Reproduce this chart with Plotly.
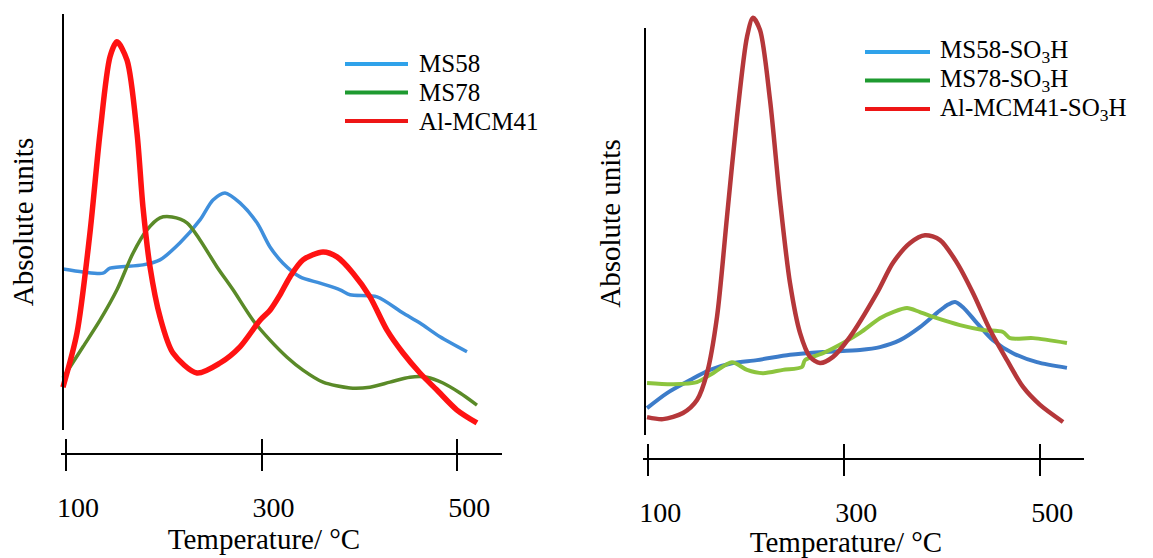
import plotly.graph_objects as go

# ---------------- data ----------------
# Left panel: TPD of parent materials
ms58_T = [96.9, 117.4, 137.8, 145.0, 178.7, 196.1, 216.6, 237.0, 250.3, 262.6, 277.9, 295.3,
          308.6, 321.9, 339.3, 359.8, 380.2, 390.4, 418.0, 444.6, 461.9, 482.4, 510.0]
ms58_v = [38.7, 38.0, 37.7, 38.9, 39.7, 40.9, 45.0, 50.5, 55.3, 57.0, 54.6, 49.8,
          44.0, 40.1, 36.8, 35.3, 33.7, 32.5, 32.0, 28.1, 25.7, 22.4, 18.8]

ms78_T = [96.9, 117.4, 134.8, 152.1, 168.5, 182.8, 196.1, 208.4, 223.7, 237.0, 254.4, 270.8, 291.2,
          308.6, 326.0, 342.3, 362.8, 390.4, 410.8, 431.3, 451.7, 469.1, 485.5, 502.9, 520.2]
ms78_v = [12.5, 20.0, 26.4, 33.7, 42.5, 48.1, 51.0, 51.2, 49.8, 45.7, 39.2, 33.7, 26.4,
          21.6, 17.5, 14.4, 11.5, 10.1, 10.3, 11.5, 12.7, 12.7, 11.3, 8.9, 6.0]

almcm_T = [96.9, 111.2, 124.5, 134.8, 145.0, 152.1, 162.4, 172.6, 178.7, 185.9, 196.1, 209.4, 233.9,
           257.5, 277.9, 298.4, 308.6, 318.8, 329.0, 342.3, 362.8, 377.1, 393.5, 410.8, 428.2,
           444.6, 461.9, 479.3, 499.8, 520.2]
almcm_v = [10.3, 23.3, 47.4, 71.4, 89.7, 93.3, 88.9, 71.4, 53.6, 39.2, 27.2, 18.5, 13.7,
           16.1, 20.0, 26.4, 28.8, 32.5, 36.8, 40.9, 42.8, 41.6, 37.7, 32.0, 24.0,
           18.5, 13.7, 9.6, 4.8, 1.7]

# Right panel: TPD of sulfonated materials
ms58s_T = [98.7, 119.1, 142.6, 163.0, 186.4, 210.9, 244.6, 278.3, 316.0, 336.4, 356.8, 377.2,
           394.6, 404.8, 413.0, 421.1, 435.4, 451.7, 472.1, 496.6, 527.2]
ms58s_v = [6.6, 10.3, 13.5, 16.0, 17.7, 18.4, 19.7, 20.4, 20.9, 21.6, 23.3, 26.5,
           30.0, 31.9, 32.7, 31.4, 27.5, 23.3, 20.1, 17.9, 16.5]

ms78s_T = [98.7, 125.2, 149.7, 166.0, 185.4, 200.7, 217.0, 237.4, 256.8, 259.9, 278.3, 298.7,
           316.0, 336.4, 349.7, 364.0, 377.2, 394.6, 418.0, 441.5, 461.9, 469.1, 492.6, 527.2]
ms78s_v = [12.8, 12.5, 13.0, 15.2, 17.9, 16.0, 15.2, 16.0, 16.7, 18.4, 20.1, 22.6,
           25.1, 28.7, 30.2, 31.2, 30.2, 28.7, 27.0, 25.8, 25.3, 23.8, 23.8, 22.6]

almcms_T = [98.7, 115.0, 135.4, 149.7, 159.9, 170.1, 180.3, 190.5, 200.7, 206.8, 214.0, 224.2,
            234.4, 244.6, 254.8, 265.0, 275.2, 288.5, 305.8, 333.4, 349.7, 367.1, 382.4, 397.7,
            415.0, 431.3, 448.7, 466.0, 482.4, 499.7, 523.2]
almcms_v = [4.4, 3.9, 5.4, 8.6, 15.2, 29.0, 53.6, 78.1, 97.8, 102.5, 99.5, 82.3,
            57.7, 37.3, 25.1, 19.2, 17.7, 19.2, 24.1, 34.9, 42.3, 47.2, 49.1, 47.9,
            42.3, 34.9, 25.8, 18.4, 11.8, 7.4, 3.2]

names_left = ["MS58", "MS78", "Al-MCM41"]
names_right = ["MS58-SO<sub>3</sub>H", "MS78-SO<sub>3</sub>H", "Al-MCM41-SO<sub>3</sub>H"]
tick_vals = [100, 300, 500]
tick_text = ["100", "300", "500"]
x_title = "Temperature/ °C"
y_title = "Absolute units"

# ---------------- styling (pixel geometry of the picture) ----------------
W, H = 1153, 558
SERIF = "Liberation Serif, Times New Roman, serif"
curve_colors_left = ["#3f8fdc", "#5a8a28", "#ff1212"]
curve_widths_left = [3.5, 3.5, 5.5]
curve_colors_right = ["#3d7cc9", "#8cc43e", "#b5373a"]
curve_widths_right = [4, 4, 4.5]
legend_colors = ["#2fa2ea", "#1e9a30", "#ee1616"]


def fx(p):
    return p / W


def fy(p):
    return 1 - p / H


def temp_at(px, t100_px, px_per_deg):
    return 100 + (px - t100_px) / px_per_deg


# panel geometry: (x-domain px, y-axis px, axis line start px, y-domain px, x-axis line px, tick top px)
panelL = dict(dom=(26, 502), yax=63, line0=61, ydom=(430, 14), xline=454, ticktop=438,
              t100=66.0, scale=0.978, yscale=4.16)
panelR = dict(dom=(608, 1084), yax=645, line0=643, ydom=(435, 12), xline=459, ticktop=443,
              t100=648.3, scale=0.98, yscale=4.07)

fig = go.Figure()

left_series = [(ms58_T, ms58_v), (ms78_T, ms78_v), (almcm_T, almcm_v)]
right_series = [(ms58s_T, ms58s_v), (ms78s_T, ms78s_v), (almcms_T, almcms_v)]

for (xs, ys), nm, c, w in zip(left_series, names_left, curve_colors_left, curve_widths_left):
    fig.add_trace(go.Scatter(x=xs, y=ys, mode="lines", name=nm, showlegend=False,
                             line=dict(color=c, width=w, shape="spline", smoothing=0.8),
                             xaxis="x", yaxis="y"))
for (xs, ys), nm, c, w in zip(right_series, names_right, curve_colors_right, curve_widths_right):
    fig.add_trace(go.Scatter(x=xs, y=ys, mode="lines", name=nm, showlegend=False,
                             line=dict(color=c, width=w, shape="spline", smoothing=0.8),
                             xaxis="x2", yaxis="y2"))

tickfont = dict(family=SERIF, size=28, color="black")
titlefont = dict(family=SERIF, size=29, color="black")

layout_axes = {}
shapes = []
for key, P, ytop_val, ysh in (("", panelL, 100, 19), ("2", panelR, 100, 14)):
    d0, d1 = P["dom"]
    rng = [temp_at(d0, P["t100"], P["scale"]), temp_at(d1, P["t100"], P["scale"])]
    layout_axes["xaxis" + key] = dict(
        domain=[fx(d0), fx(d1)], range=rng, anchor="free", position=fy(P["ticktop"]),
        showline=False, ticks="outside", ticklen=P["xline"] - P["ticktop"] + 16 + 0,
        tickwidth=2, tickcolor="black",
        tickmode="array", tickvals=tick_vals, ticktext=tick_text,
        tickfont=tickfont, ticklabelshift=12, ticklabelstandoff=12,
        showgrid=False, zeroline=False, automargin=False,
        title=dict(text=x_title, font=titlefont, standoff=2))
    yb, yt = P["ydom"]
    layout_axes["yaxis" + key] = dict(
        domain=[fy(yb), fy(yt)], range=[0, (yb - yt) / P["yscale"]],
        anchor="free", position=fx(P["yax"]), showline=False,
        ticks="", showticklabels=False, showgrid=False, zeroline=False, automargin=False,
        title=dict(text=y_title, font=titlefont, standoff=ysh))
    # y-axis line (stops at the top of the value range) and x-axis line
    shapes.append(dict(type="line", xref="paper", x0=fx(P["yax"]), x1=fx(P["yax"]),
                       yref="y" + key, y0=0, y1=ytop_val, line=dict(color="black", width=2)))
    shapes.append(dict(type="line", xref="paper", x0=fx(P["line0"]), x1=fx(d1),
                       yref="paper", y0=fy(P["xline"]), y1=fy(P["xline"]),
                       line=dict(color="black", width=2)))

# hand-built legends (long swatches, tight rows as in the picture)
annotations = []
legend_specs = [(names_left, 345, 408, 417, 64), (names_right, 865, 930, 938, 52)]
ROW = 28.5
for names, lx0, lx1, tx, ytop in legend_specs:
    for i, (nm, c) in enumerate(zip(names, legend_colors)):
        yy = fy(ytop + i * ROW)
        shapes.append(dict(type="line", xref="paper", yref="paper", x0=fx(lx0), x1=fx(lx1),
                           y0=yy, y1=yy, line=dict(color=c, width=4)))
        annotations.append(dict(text=nm, xref="paper", yref="paper", x=fx(tx), y=yy,
                                xanchor="left", yanchor="middle", showarrow=False,
                                font=dict(family=SERIF, size=25, color="black")))

fig.update_layout(
    width=W, height=H, template="none", showlegend=False,
    paper_bgcolor="white", plot_bgcolor="white",
    margin=dict(l=0, r=0, t=0, b=0),
    font=dict(family=SERIF, color="black"),
    shapes=shapes,
    annotations=annotations,
    **layout_axes,
)

fig.write_html("out.html", config={"displayModeBar": False},
               post_script="document.body.style.margin='0px';")
